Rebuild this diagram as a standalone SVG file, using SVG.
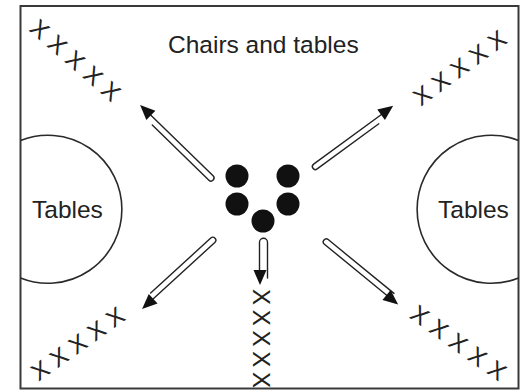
<svg xmlns="http://www.w3.org/2000/svg" width="523" height="392" viewBox="0 0 523 392">
<style>
.frame{fill:none;stroke:#3a3a3a;stroke-width:2}
.table{fill:none;stroke:#2a2a2a;stroke-width:1.6}
.lbl{font-family:"Liberation Sans",Arial,sans-serif;font-size:24.5px;fill:#222}
.xs{font-family:"Liberation Sans",Arial,sans-serif;font-size:24px;fill:#222;text-anchor:middle}
.shaft{fill:none;stroke:#222;stroke-width:1.4;stroke-linecap:round}
.head{fill:#111}
.dot{fill:#111}
</style>
<rect class="frame" x="20.5" y="6" width="498" height="382.5"/>
<g id="title"><text class="lbl" x="168" y="53">Chairs and tables</text></g>
<g id="tables-left">
<path class="table" d="M20.5 140.5 A74 74 0 1 1 20.5 278"/>
<text class="lbl" x="32" y="218">Tables</text>
</g>
<g id="tables-right">
<path class="table" d="M518.5 140.5 A74 74 0 1 0 518.5 278"/>
<text class="lbl" x="438" y="218">Tables</text>
</g>
<g id="people">
<circle class="dot" cx="237" cy="176" r="11.5"/>
<circle class="dot" cx="288" cy="176" r="11.5"/>
<circle class="dot" cx="237" cy="204" r="11.5"/>
<circle class="dot" cx="288" cy="204" r="11.5"/>
<circle class="dot" cx="263" cy="221" r="11.5"/>
</g>
<g id="rows">
<text class="xs" transform="translate(40,29) rotate(41.1)" x="0 23.6 47.2 70.8 94.4" y="8.6">XXXXX</text>
<text class="xs" transform="translate(422,95) rotate(-36.3)" x="0 23.2 46.4 69.6 92.8" y="8.6">XXXXX</text>
<text class="xs" transform="translate(40,370) rotate(-35.2)" x="0 23 46 69 92" y="8.6">XXXXX</text>
<text class="xs" transform="translate(420,315) rotate(35.5)" x="0 23.7 47.4 71.1 94.8" y="8.6">XXXXX</text>
<text class="xs" transform="translate(262,297) rotate(90)" x="0 20.75 41.5 62.25 83" y="8.6">XXXXX</text>
</g>
<g id="connectors">
<g transform="translate(211,178) rotate(224.2)">
<path class="shaft" d="M79 -3 L0 -3 A3 3 0 0 0 0 3 L90 3"/>
<polygon class="head" points="101.8,3 86.8,-3.5 86.8,9.5"/>
</g>
<g transform="translate(315.4,166.5) rotate(-36.2)">
<path class="shaft" d="M76.4 3 L0 3 A3 3 0 0 1 0 -3 L87 -3"/>
<polygon class="head" points="98.6,-3 83.6,-9.5 83.6,3.5"/>
</g>
<g transform="translate(212.8,240.3) rotate(137.6)">
<path class="shaft" d="M81.4 3 L0 3 A3 3 0 0 1 0 -3 L87 -3"/>
<polygon class="head" points="98.5,-3 83.5,-9.5 83.5,3.5"/>
</g>
<g transform="translate(326.3,241.9) rotate(39.3)">
<path class="shaft" d="M85 -3 L0 -3 A3 3 0 0 0 0 3 L84 3"/>
<polygon class="head" points="95.3,3 80.3,-3.5 80.3,9.5"/>
</g>
<g>
<path class="shaft" d="M267.5 278 L267.5 242.3 A4 4 0 0 0 259.5 242.3 L259.5 272"/>
<polygon class="head" points="260,285 253.5,270 266.5,270"/>
</g>
</g>
</svg>
